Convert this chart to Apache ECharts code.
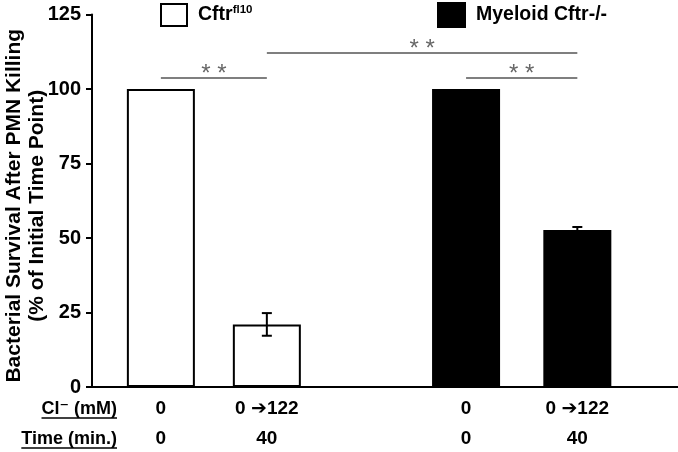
<!DOCTYPE html>
<html>
<head>
<meta charset="utf-8">
<script src="https://cdn.jsdelivr.net/npm/echarts@6/dist/echarts.min.js"></script>
<style>html,body{margin:0;padding:0;background:#fff}#c{width:678px;height:452px}</style>
</head>
<body>
<div id="c"></div>
<script>
// ---- data ----
const groupNames = ['Cftr', 'Myeloid Cftr-/-'];
const rowTitles = ['Cl\u207B (mM)', 'Time (min.)'];
const clLabels = ['0', '0 \u2794122', '0', '0 \u2794122'];
const timeLabels = ['0', '40', '0', '40'];
const barGroup = [0, 0, 1, 1];            // which genotype each bar belongs to
const barSlot = [1, 2, 3.88, 4.93];       // slot of each bar along the x scale
const survival = [100, 21, 100, 52.7];
const survivalErr = [0, 3.8, 0, 1.0];
const yTicks = [0, 25, 50, 75, 100, 125];
const sigBrackets = [ // [fromBar, toBar, level]
  [0, 1, 103.7],
  [1, 3, 112.1],
  [2, 3, 103.7]
];
const sigText = '* *';

const FONT = '"Liberation Sans", Arial, "DejaVu Sans", sans-serif';
const NARROW = '"Liberation Sans Narrow", "Arial Narrow", "Liberation Sans", sans-serif';

function labelAt(arr) {
  return function (v) {
    for (let i = 0; i < barSlot.length; i++) if (Math.abs(barSlot[i] - v) < 1e-6) return arr[i];
    return '';
  };
}

const whiteData = [], blackData = [], errData = [];
barSlot.forEach((x, i) => {
  (barGroup[i] === 0 ? whiteData : blackData).push([x, survival[i]]);
  if (survivalErr[i] > 0) errData.push([x, survival[i] - survivalErr[i], survival[i] + survivalErr[i]]);
});

const markLines = sigBrackets.map(b => [
  { coord: [barSlot[b[0]], b[2]], label: { formatter: sigText } },
  { coord: [barSlot[b[1]], b[2]] }
]);

// row titles (left of the label rows), underlined
const titleFont = 'bold 18px ' + FONT;
const mctx = document.createElement('canvas').getContext('2d');
mctx.font = titleFont;
const titleRight = 117, titleY = [409, 439];
const graphics = [];
rowTitles.forEach((t, i) => {
  const w = mctx.measureText(t).width;
  graphics.push({ type: 'text', x: titleRight, y: titleY[i],
    style: { text: t, font: titleFont, fill: '#000', align: 'right', verticalAlign: 'middle' } });
  graphics.push({ type: 'line', shape: { x1: titleRight - w, y1: titleY[i] + 9, x2: titleRight, y2: titleY[i] + 9 },
    style: { stroke: '#000', lineWidth: 1.5 } });
});

const chart = echarts.init(document.getElementById('c'), null, { renderer: 'canvas' });
const hiddenAxisCommon = {
  type: 'value', min: 0.35, max: 5.88, position: 'bottom',
  axisLine: { show: false }, axisTick: { show: false }, splitLine: { show: false }
};
chart.setOption({
  animation: false,
  backgroundColor: '#fff',
  grid: { left: 92, right: 0, top: 14.5, bottom: 65, containLabel: false, outerBoundsMode: 'none' },
  legend: [
    {
      data: [groupNames[0]], left: 160, top: 3, padding: 0, itemWidth: 26, itemHeight: 22, icon: 'rect',
      selectedMode: false,
      formatter: () => '{a|Cftr}{s|fl10}',
      textStyle: {
        rich: {
          a: { fontFamily: FONT, fontWeight: 'bold', fontSize: 19.5, color: '#000', padding: [0, 0, 0, 6] },
          s: { fontFamily: FONT, fontWeight: 'bold', fontSize: 11.5, color: '#000', verticalAlign: 'top', padding: [0, 0, 10, 0] }
        }
      }
    },
    {
      data: [groupNames[1]], left: 437, top: 2, padding: 0, itemWidth: 27, itemHeight: 24, icon: 'rect',
      selectedMode: false,
      textStyle: { fontFamily: FONT, fontWeight: 'bold', fontSize: 19.5, color: '#000', padding: [0, 0, 0, 6] }
    }
  ],
  xAxis: [
    {
      type: 'value', min: 0.35, max: 5.88, position: 'bottom',
      axisLine: { show: true, onZero: false, lineStyle: { color: '#000', width: 2 } },
      axisTick: { show: false }, axisLabel: { show: false }, splitLine: { show: false }
    },
    Object.assign({}, hiddenAxisCommon, {
      offset: 22,
      axisLabel: {
        customValues: barSlot, formatter: labelAt(clLabels), margin: 0, verticalAlign: 'middle',
        fontFamily: FONT, fontWeight: 'bold', fontSize: 19, color: '#000'
      }
    }),
    Object.assign({}, hiddenAxisCommon, {
      offset: 52,
      axisLabel: {
        customValues: barSlot, formatter: labelAt(timeLabels), margin: 0, verticalAlign: 'middle',
        fontFamily: FONT, fontWeight: 'bold', fontSize: 19, color: '#000'
      }
    })
  ],
  yAxis: {
    type: 'value', min: 0, max: 125, interval: 25,
    axisLine: { show: true, lineStyle: { color: '#000', width: 2 } },
    axisTick: { show: true, length: 6, lineStyle: { color: '#000', width: 2 } },
    axisLabel: {
      customValues: yTicks, margin: 11, fontFamily: NARROW, fontWeight: 'bold', fontSize: 20, color: '#000'
    },
    splitLine: { show: false },
    name: 'Bacterial Survival After PMN Killing\n(% of Initial Time Point)',
    nameLocation: 'middle', nameGap: 43.5, nameRotate: 90, nameMoveOverlap: false,
    nameTextStyle: { fontFamily: FONT, fontWeight: 'bold', fontSize: 21, lineHeight: 23, color: '#000', padding: [0, 10, 0, 0] }
  },
  series: [
    {
      name: groupNames[0], type: 'bar', data: whiteData, barWidth: 68, barGap: '-100%',
      itemStyle: { color: '#fff', borderColor: '#000', borderWidth: 2 }
    },
    {
      name: groupNames[1], type: 'bar', data: blackData, barWidth: 68, barGap: '-100%',
      itemStyle: { color: '#000', borderColor: '#000', borderWidth: 2 },
      markLine: {
        silent: true, symbol: ['none', 'none'],
        lineStyle: { color: '#555', width: 1.5, type: 'solid' },
        label: { show: true, position: 'middle', distance: 2, offset: [0, 10], fontFamily: FONT, fontSize: 24, color: '#666' },
        data: markLines
      }
    },
    {
      type: 'custom', data: errData, z: 5,
      renderItem: function (params, api) {
        const x = api.value(0);
        const lo = api.coord([x, api.value(1)]);
        const hi = api.coord([x, api.value(2)]);
        const w = 5;
        const st = { stroke: '#000', lineWidth: 2 };
        return {
          type: 'group', children: [
            { type: 'line', shape: { x1: lo[0], y1: lo[1], x2: hi[0], y2: hi[1] }, style: st },
            { type: 'line', shape: { x1: lo[0] - w, y1: lo[1], x2: lo[0] + w, y2: lo[1] }, style: st },
            { type: 'line', shape: { x1: hi[0] - w, y1: hi[1], x2: hi[0] + w, y2: hi[1] }, style: st }
          ]
        };
      }
    }
  ],
  graphic: graphics
});
</script>
</body>
</html>
